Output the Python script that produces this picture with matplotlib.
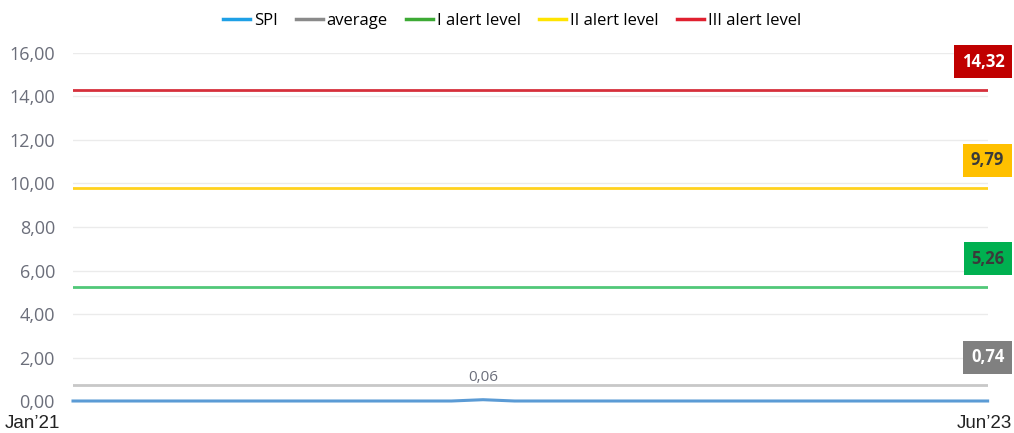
import numpy as np
import matplotlib
matplotlib.use("Agg")
import matplotlib.pyplot as plt

# monthly SPI, Jan'21 .. Jun'23
months = 30
spi = [0.0] * months
spi[13] = 0.06
average = 0.74
alert_levels = [5.26, 9.79, 14.32]
alert_names = ["I alert level", "II alert level", "III alert level"]
y_ticks = [0, 2, 4, 6, 8, 10, 12, 14, 16]
x_labels = ["Jan\u201921", "Jun\u201923"]

plt.rcParams["font.family"] = ["Open Sans", "DejaVu Sans"]

fig = plt.figure(figsize=(10.14, 4.33), dpi=100)
ax = fig.add_axes([0.072, 0.0739, 0.902, 0.8037])

x = np.arange(months)
c_spi, c_avg = "#5B9BD5", "#C8C8C8"
c_lvl = ["#50C878", "#FFD21E", "#D6303C"]
box_bg = ["#00B050", "#FFC000", "#C00000"]
box_fg = ["#3A3A3A", "#3A3A3A", "white"]

for yv in y_ticks:
    ax.axhline(yv, color="#EBEBEB", lw=1, zorder=0)

ax.plot(x, spi, color=c_spi, lw=2.2, label="SPI", clip_on=False, zorder=5)
ax.plot(x, [average] * months, color=c_avg, lw=2, label="average", zorder=4)
for lv, nm, c in zip(alert_levels, alert_names, c_lvl):
    ax.plot(x, [lv] * months, color=c, lw=2, label=nm, zorder=4)

ax.set_xlim(0, months - 1)
ax.set_ylim(0, 16)
ax.set_yticks(y_ticks)
ax.set_yticklabels([f"{v:.2f}".replace(".", ",") for v in y_ticks],
                   color="#6B6E7A", fontsize=13)
ax.tick_params(axis="y", length=0, pad=13)
ax.set_xticks([])
for s in ax.spines.values():
    s.set_visible(False)

# peak label
i_max = int(np.argmax(spi))
ax.text(x[i_max], spi[i_max] + 1.0, f"{spi[i_max]:.2f}".replace(".", ","),
        ha="center", va="center", fontsize=11, color="#6B6E7A")

# value boxes at the right end
end_vals = [average] + alert_levels
end_bg = ["#808080"] + box_bg
end_fg = ["white"] + box_fg
for v, bg, fg in zip(end_vals, end_bg, end_fg):
    ax.annotate(f"{v:.2f}".replace(".", ","), xy=(months - 1, v), xytext=(12, 20),
                textcoords="offset points", ha="right", va="center",
                fontsize=12, fontweight="bold", color=fg, annotation_clip=False,
                bbox=dict(boxstyle="square,pad=0.45", fc=bg, ec="none"))

fig.text(32 / 1014, 1 - 424 / 433, x_labels[0], ha="center", va="center",
         fontsize=13.5, family="Liberation Sans", color="#222222")
fig.text(1012 / 1014, 1 - 424 / 433, x_labels[1], ha="right", va="center",
         fontsize=13.5, family="Liberation Sans", color="#222222")

handles, labels = ax.get_legend_handles_labels()
leg = fig.legend(handles, labels, loc="center", bbox_to_anchor=(0.505, 1 - 21 / 433),
                 ncol=5, frameon=False, fontsize=12, handlelength=1.6,
                 handletextpad=0.25, columnspacing=1.1)
for h in leg.legend_handles:
    h.set_linewidth(2.5)
leg.legend_handles[0].set_color("#1EA0E6")
leg.legend_handles[1].set_color("#8A8A8A")
leg.legend_handles[2].set_color("#3DAA35")
leg.legend_handles[3].set_color("#FFE400")
leg.legend_handles[4].set_color("#E0202F")

fig.savefig("out.png", dpi=100)
